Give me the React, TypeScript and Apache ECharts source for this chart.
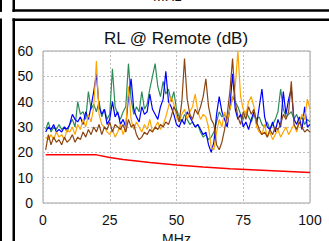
import React, { useEffect, useRef } from "react";
import * as echarts from "echarts";

const freqMHz: number[] = Array.from({ length: 100 }, (_, i) => i + 1);

const greenRL = [29,32,28,30,29,31,29,30,28,31,33,30,40,35,36,33,44,37,39,36,40,34,37,33,35,53,38,35,33,36,38,55,41,35,38,36,44,37,39,45,50,55,46,42,48,43,45,40,44,37,34,32,35,33,31,32,30,31,28,26,27,25,26,28,32,36,34,35,33,37,42,40,38,35,33,36,34,32,35,33,34,31,30,32,29,31,33,36,45,37,34,35,36,33,35,32,34,31,33,32];
const blueRL = [28,30,29,31,28,29,28,30,29,31,35,33,32,34,31,36,33,38,44,51,38,35,37,31,33,40,34,36,31,33,30,42,49,37,34,32,38,35,36,43,37,35,33,38,41,52,40,38,35,31,30,33,31,36,34,32,30,31,29,27,28,23,20,24,35,42,36,33,30,38,51,37,33,35,30,32,29,33,36,31,38,45,34,30,29,32,28,33,30,44,35,41,45,33,31,34,29,38,30,31];
const orangeRL = [26,25,27,25,28,26,27,25,29,28,30,27,31,29,33,30,35,32,38,56,35,31,30,28,27,29,26,28,31,27,30,46,33,29,32,30,28,31,29,33,28,30,32,29,31,34,38,42,39,34,32,35,37,33,36,38,43,36,33,35,34,30,22,21,28,33,30,36,32,37,41,46,60,42,37,35,40,42,38,30,28,27,31,26,28,25,27,29,26,28,30,27,29,31,28,32,35,33,41,37];
const brownRL = [21,27,23,26,24,25,23,26,24,25,27,24,26,25,28,26,29,27,30,28,31,27,30,29,32,28,31,30,29,31,28,33,30,31,27,25,26,28,27,29,28,30,29,31,30,32,31,34,38,36,32,40,57,41,35,33,37,35,38,42,49,38,33,31,23,21,24,29,35,44,57,40,34,31,36,33,38,35,37,32,29,27,28,26,29,27,30,29,31,35,33,36,48,31,29,32,30,28,29,28];

const limitFreq = [1, 20, 25, 30, 35, 40, 50, 60, 70, 80, 90, 100];
const limitRL = [19, 19, 18, 17.2, 16.6, 16, 15, 14.2, 13.5, 13, 12.5, 12];

const yTicks = [0, 10, 20, 30, 40, 50, 60];
const xTicks = [0, 25, 50, 75, 100];

const FONT = "'Liberation Sans', Arial, sans-serif";

function pairs(xs: number[], ys: number[]) {
  return xs.map((x, i) => [x, ys[i]]);
}

export default function App() {
  const ref = useRef<HTMLDivElement>(null);
  useEffect(() => {
    if (!ref.current) return;
    const chart = echarts.init(ref.current, undefined, { renderer: "svg" });
    const black = { fill: "#000" };
    const lineSeries = (name: string, data: number[], color: string, w = 1.2) => ({
      name,
      type: "line",
      data: pairs(freqMHz, data),
      showSymbol: false,
      symbol: "none",
      lineStyle: { color, width: w },
      z: 2,
    });
    chart.setOption({
      animation: false,
      backgroundColor: "#fff",
      title: {
        text: "RL @ Remote (dB)",
        left: 171,
        textAlign: "center",
        top: 25,
        textStyle: { fontFamily: FONT, fontSize: 17, fontWeight: "normal", color: "#111" },
      },
      grid: {
        left: 43,
        top: 51,
        right: 19,
        bottom: 38,
        show: true,
        borderColor: "#a0a0a0",
        borderWidth: 1,
        containLabel: false,
        outerBoundsMode: "none",
      },
      xAxis: {
        type: "value",
        min: 0,
        max: 100,
        interval: 25,
        name: "MHz",
        nameLocation: "middle",
        nameGap: 28,
        nameTextStyle: { fontFamily: FONT, fontSize: 14, color: "#111" },
        axisLine: { show: false },
        axisTick: { show: false },
        axisLabel: { fontFamily: FONT, fontSize: 14, color: "#111", margin: 10,
          formatter: (v: number) => (xTicks.includes(v) ? String(v) : "") },
        splitLine: { show: true, lineStyle: { type: [2, 2], color: "#bdbdbd", width: 1 } },
      },
      yAxis: {
        type: "value",
        min: 0,
        max: 60,
        interval: 10,
        axisLine: { show: false },
        axisTick: { show: false },
        axisLabel: { fontFamily: FONT, fontSize: 14, color: "#111", margin: 10,
          formatter: (v: number) => (yTicks.includes(v) ? String(v) : "") },
        splitLine: { show: true, lineStyle: { type: [2, 2], color: "#bdbdbd", width: 1 } },
      },
      series: [
        lineSeries("Pair 1", greenRL, "#2e8b57"),
        lineSeries("Pair 2", blueRL, "#0000ff"),
        lineSeries("Pair 3", orangeRL, "#ffa500"),
        lineSeries("Pair 4", brownRL, "#8b4513"),
        {
          name: "Limit",
          type: "line",
          data: pairs(limitFreq, limitRL),
          showSymbol: false,
          symbol: "none",
          lineStyle: { color: "#ff0000", width: 1.5 },
          z: 3,
        },
      ],
      graphic: [
        { type: "text", left: 153, top: -11, style: { text: "MHz", font: `14px ${FONT}`, fill: "#111" } },
        { type: "rect", shape: { x: 12.5, y: 9.3, width: 330, height: 2.5 }, style: black },
        { type: "rect", shape: { x: 12.5, y: 0, width: 2.5, height: 11.8 }, style: black },
        { type: "rect", shape: { x: 12.5, y: 18.4, width: 330, height: 2.5 }, style: black },
        { type: "rect", shape: { x: 12.5, y: 18.4, width: 2.5, height: 230 }, style: black },
        { type: "rect", shape: { x: 0, y: 0, width: 2, height: 11.8 }, style: black },
        { type: "rect", shape: { x: 0, y: 9.3, width: 2, height: 2.5 }, style: black },
        { type: "rect", shape: { x: 0, y: 18.4, width: 2, height: 230 }, style: black },
      ],
    });
    return () => chart.dispose();
  }, []);
  return (
    <div
      ref={ref}
      style={{ position: "absolute", left: 0, top: 0, width: 329, height: 241 }}
    />
  );
}
